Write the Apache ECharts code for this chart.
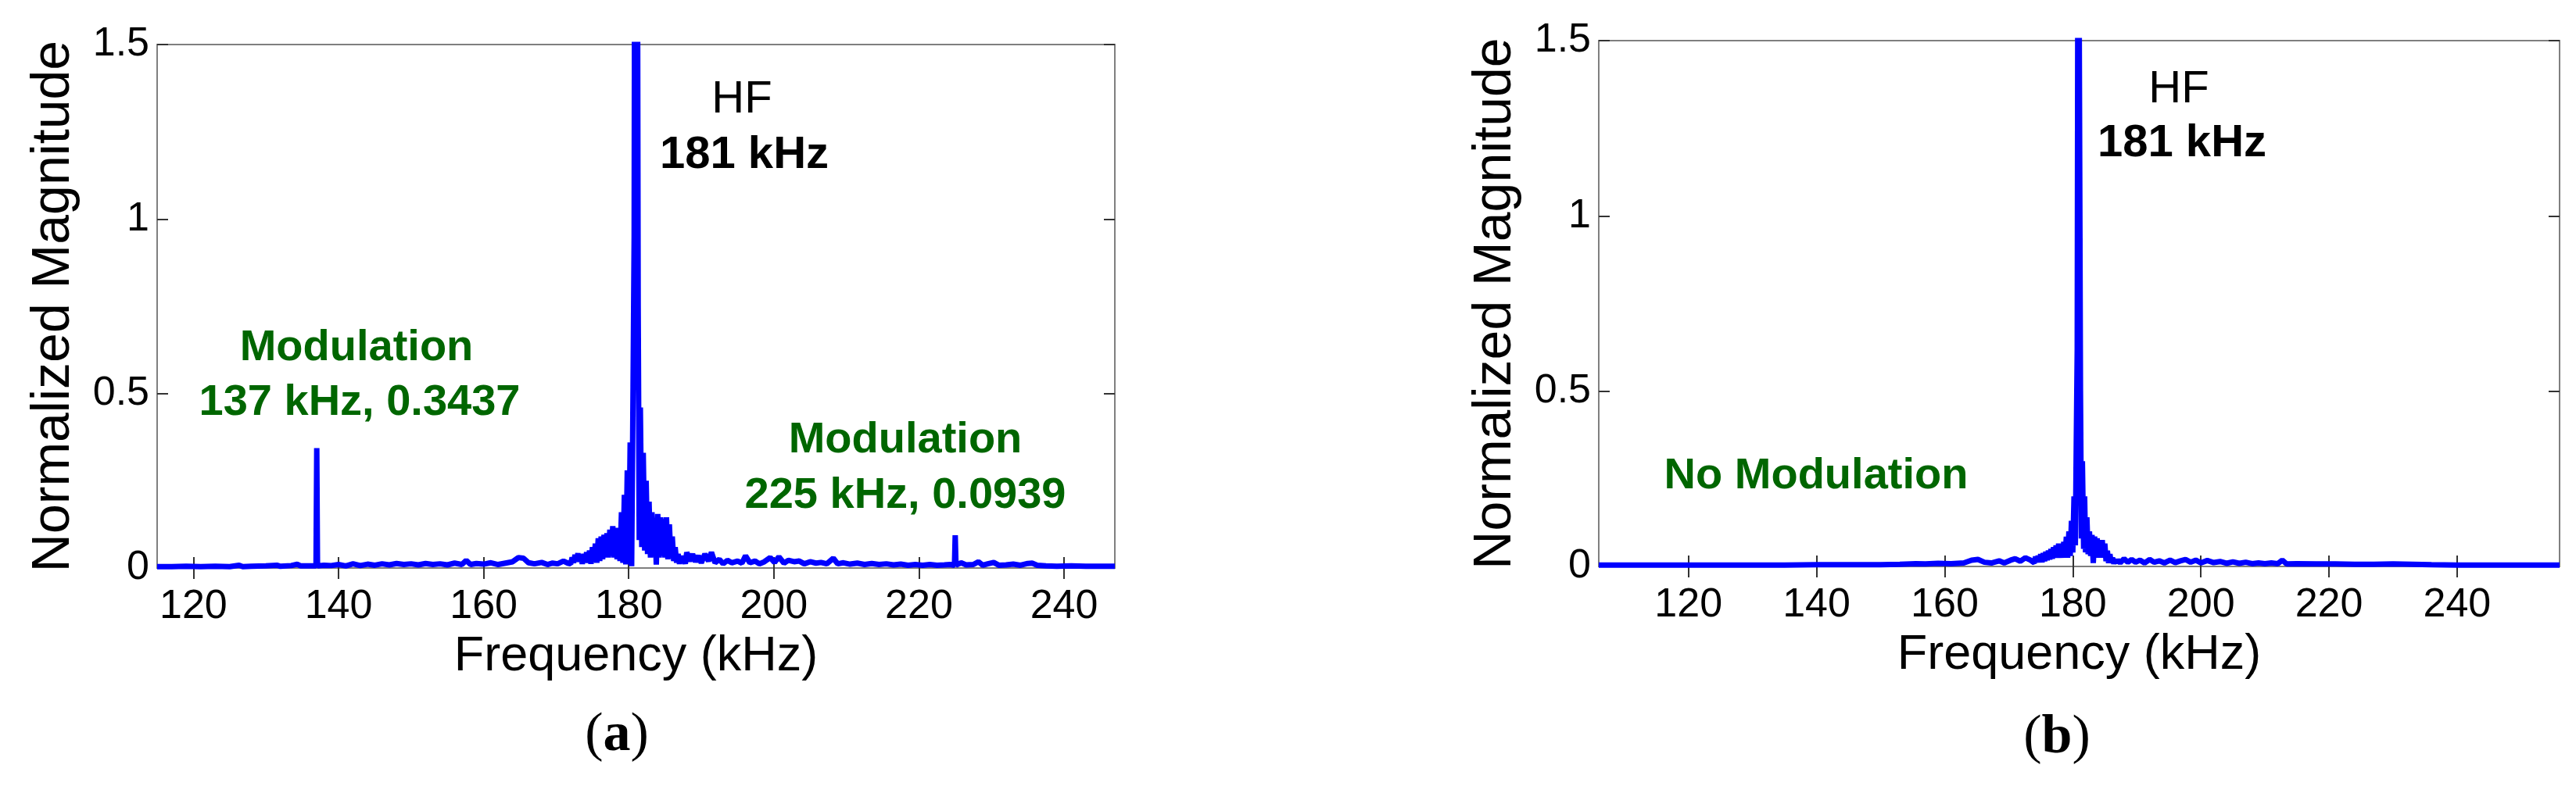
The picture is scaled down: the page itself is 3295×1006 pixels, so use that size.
<!DOCTYPE html>
<html>
<head>
<meta charset="utf-8">
<title>Spectrum</title>
<script src="https://cdn.jsdelivr.net/npm/echarts@6/dist/echarts.min.js"></script>
<style>
  html, body { margin: 0; padding: 0; background: #fff; }
  #chart { width: 3295px; height: 1006px; }
</style>
</head>
<body>
<div id="chart"></div>
<script>
// tick labels
const freqTicks = [120, 140, 160, 180, 200, 220, 240];
const magTicks = [0, 0.5, 1, 1.5];

// (a) spectrum with modulation
const freqA = [
  115, 117, 119, 121, 123, 125, 126.3, 126.8, 128, 130, 131.5, 132, 133.5, 134.3, 134.8, 136, 136.9, 137.0, 137.1,
  138, 139, 140, 141, 142, 143, 144, 145, 146, 147, 148, 149, 150, 151, 152, 153, 154, 155, 156, 157, 157.6, 158.2,
  159, 160, 161, 162, 163, 164, 164.8, 165.5, 166.2, 167, 168, 168.8, 169.5, 170.2, 171, 171.6,
  172.0, 172.2, 172.4, 172.6, 172.8, 173.0, 173.2, 173.4, 173.6, 173.8, 174.0, 174.2, 174.4, 174.6, 174.8,
  175.0, 175.2, 175.4, 175.6, 175.8, 176.0, 176.2, 176.4, 176.6, 176.8, 177.0, 177.2, 177.4, 177.6, 177.8,
  178.0, 178.2, 178.4, 178.6, 178.8, 179.0, 179.2, 179.4, 179.6, 179.8, 180.0, 180.2, 180.4, 180.6, 180.75,
  180.85, 181.15, 181.3, 181.45, 181.6, 181.8, 182.0, 182.2, 182.4, 182.6, 182.8, 183.0, 183.2, 183.4, 183.6,
  183.8, 184.0, 184.2, 184.4, 184.6, 184.8, 185.0, 185.2, 185.4, 185.6, 185.8, 186.0, 186.2, 186.4, 186.6,
  186.8, 187.0, 187.2, 187.4, 187.6, 187.8, 188.0,
  188.4, 188.8, 189.2, 189.6, 190, 190.5, 191, 191.4, 191.9, 192.5, 193, 193.6,
  194.2, 195, 195.6, 196.1, 196.7, 197.4, 198, 198.7, 199.5, 200.1, 200.7, 201.4, 202, 202.8, 203.5, 204.2, 205,
  205.8, 206.5, 207.3, 208.2, 208.8, 209.6, 210.5, 211.5, 212.5, 213.5, 214.5, 215.5, 216.5, 217.5, 218.5, 219.5,
  220.5, 221.5, 222.5, 223.5, 224.3, 224.9, 225.0, 225.1, 225.8, 226.5, 227.5, 228.2, 228.8, 229.5, 230.3, 231,
  232, 233, 234, 235, 235.6, 236.3, 237.5, 239, 241, 243, 245, 247
];
const magA = [
  0.004, 0.004, 0.005, 0.004, 0.005, 0.004, 0.008, 0.004, 0.005, 0.006, 0.008, 0.005, 0.007, 0.011, 0.006, 0.006, 0.006, 0.3437, 0.006,
  0.008, 0.007, 0.010, 0.006, 0.012, 0.007, 0.011, 0.008, 0.012, 0.009, 0.013, 0.010, 0.012, 0.009, 0.013, 0.010, 0.012, 0.009, 0.014, 0.010, 0.022, 0.010,
  0.013, 0.011, 0.015, 0.010, 0.014, 0.018, 0.030, 0.028, 0.015, 0.012, 0.016, 0.010, 0.014, 0.012, 0.020, 0.014,
  0.012, 0.030, 0.015, 0.038, 0.020, 0.042, 0.018, 0.035, 0.012, 0.040, 0.020, 0.045, 0.015, 0.050, 0.012,
  0.060, 0.018, 0.070, 0.015, 0.085, 0.020, 0.090, 0.025, 0.095, 0.030, 0.100, 0.030, 0.110, 0.035, 0.120,
  0.030, 0.115, 0.025, 0.105, 0.020, 0.160, 0.015, 0.210, 0.010, 0.280, 0.010, 0.360, 0.005, 0.520, 0.950,
  2.4, 2.4, 0.750, 0.080, 0.460, 0.060, 0.330, 0.050, 0.250, 0.040, 0.190, 0.030, 0.160, 0.035, 0.140,
  0.010, 0.155, 0.030, 0.145, 0.035, 0.140, 0.030, 0.145, 0.025, 0.125, 0.030, 0.090, 0.020, 0.060, 0.015,
  0.040, 0.012, 0.035, 0.015, 0.030, 0.012, 0.045,
  0.020, 0.040, 0.018, 0.035, 0.015, 0.040, 0.020, 0.045, 0.015, 0.025, 0.012, 0.022,
  0.015, 0.020, 0.014, 0.035, 0.015, 0.020, 0.012, 0.018, 0.030, 0.016, 0.032, 0.014, 0.022, 0.018, 0.020, 0.012, 0.018,
  0.014, 0.016, 0.012, 0.028, 0.012, 0.015, 0.011, 0.014, 0.010, 0.013, 0.010, 0.012, 0.009, 0.011, 0.008, 0.010,
  0.008, 0.010, 0.008, 0.009, 0.010, 0.008, 0.0939, 0.008, 0.015, 0.009, 0.010, 0.018, 0.008, 0.012, 0.016, 0.008,
  0.009, 0.011, 0.008, 0.013, 0.014, 0.008, 0.006, 0.005, 0.006, 0.005, 0.005, 0.005
];

// (b) spectrum without modulation
const freqB = [
  106, 110, 115, 120, 125, 130, 135, 140, 145, 150, 153, 155.5, 157, 159, 161, 163, 164.2, 165.2, 166.2, 167.3,
  168.5, 169.3, 170.3, 171, 171.8, 172.6, 173.4,
  174.0, 174.2, 174.4, 174.6, 174.8, 175.0, 175.2, 175.4, 175.6, 175.8, 176.0, 176.2, 176.4, 176.6, 176.8,
  177.0, 177.2, 177.4, 177.6, 177.8, 178.0, 178.2, 178.4, 178.6, 178.8, 179.0, 179.2, 179.4, 179.6, 179.8,
  180.0, 180.2, 180.4, 180.55, 180.7, 180.85, 181.05, 181.2, 181.35, 181.5, 181.7, 181.85, 182.0, 182.2, 182.4,
  182.6, 182.8, 183.0, 183.2, 183.4, 183.6, 183.8, 184.0, 184.2, 184.4, 184.6, 184.8, 185.0, 185.2, 185.4,
  185.6, 185.8, 186.0, 186.2, 186.4, 186.6, 186.8, 187.0,
  187.4, 188, 188.6, 189.2, 189.8, 190.5, 191.2, 192, 192.7, 193.5, 194.3, 195.2, 196, 196.8, 197.6, 198.4, 199.2, 200, 201,
  202, 203, 204, 205, 206, 207, 208, 209, 210, 211, 212, 212.7, 213.4, 215, 218, 221, 224, 227, 230, 233, 236,
  240, 245, 250, 256
];
const magB = [
  0.004, 0.004, 0.004, 0.004, 0.004, 0.004, 0.004, 0.005, 0.005, 0.005, 0.006, 0.008, 0.007, 0.009, 0.008, 0.010, 0.018, 0.020, 0.012, 0.010,
  0.016, 0.010, 0.018, 0.022, 0.015, 0.025, 0.018,
  0.010, 0.028, 0.012, 0.030, 0.014, 0.035, 0.012, 0.038, 0.015, 0.042, 0.018, 0.045, 0.020, 0.050, 0.022,
  0.055, 0.025, 0.060, 0.025, 0.065, 0.030, 0.060, 0.025, 0.070, 0.030, 0.085, 0.025, 0.100, 0.030, 0.130,
  0.040, 0.200, 0.060, 0.350, 0.620, 2.4, 2.4, 0.500, 0.080, 0.300, 0.050, 0.200, 0.040, 0.140, 0.035,
  0.100, 0.030, 0.090, 0.010, 0.085, 0.035, 0.080, 0.025, 0.075, 0.030, 0.075, 0.025, 0.065, 0.015, 0.045,
  0.010, 0.035, 0.010, 0.025, 0.008, 0.020, 0.010, 0.018,
  0.010, 0.022, 0.012, 0.020, 0.012, 0.018, 0.010, 0.020, 0.012, 0.016, 0.010, 0.018, 0.011, 0.016, 0.020, 0.012, 0.018, 0.010, 0.017,
  0.011, 0.014, 0.009, 0.013, 0.009, 0.012, 0.008, 0.010, 0.008, 0.010, 0.008, 0.018, 0.007, 0.008, 0.007, 0.007, 0.006, 0.006, 0.007, 0.006, 0.005,
  0.004, 0.004, 0.004, 0.004
];

const SANS = '"Liberation Sans", Arial, sans-serif';
const GREEN = '#006600';
const BLUE = '#0000ff';
const FRAME = '#7f7f7f';

const chart = echarts.init(document.getElementById('chart'));

// axis helpers
function bottomAxis(grid, min, max) {
  return {
    type: 'value', gridIndex: grid, position: 'bottom', min: min, max: max,
    name: 'Frequency (kHz)', nameLocation: 'middle', nameGap: 82,
    nameTextStyle: { fontFamily: SANS, fontSize: 63, color: '#000' },
    axisLine: { show: false },
    axisTick: { show: true, inside: true, length: 14, customValues: freqTicks, lineStyle: { color: '#333', width: 2 } },
    axisLabel: { show: true, customValues: freqTicks, margin: 24, fontFamily: SANS, fontSize: 52, color: '#000' },
    splitLine: { show: false }
  };
}
function topAxis(grid, min, max) {
  return {
    type: 'value', gridIndex: grid, position: 'top', min: min, max: max,
    axisLine: { show: false },
    axisTick: { show: true, inside: true, length: 14, customValues: freqTicks, lineStyle: { color: '#333', width: 2 } },
    axisLabel: { show: false },
    splitLine: { show: false }
  };
}
function leftAxis(grid) {
  return {
    type: 'value', gridIndex: grid, position: 'left', min: 0, max: 1.5, interval: 0.5,
    name: 'Normalized Magnitude', nameLocation: 'middle', nameGap: 98,
    nameTextStyle: { fontFamily: SANS, fontSize: 68, color: '#000' },
    axisLine: { show: false },
    axisTick: { show: true, inside: true, length: 14, lineStyle: { color: '#333', width: 2 } },
    axisLabel: { show: true, margin: 10, fontFamily: SANS, fontSize: 52, color: '#000',
      formatter: v => magTicks.indexOf(v) >= 0 ? String(v) : '' },
    splitLine: { show: false }
  };
}
function rightAxis(grid) {
  return {
    type: 'value', gridIndex: grid, position: 'right', min: 0, max: 1.5, interval: 0.5,
    axisLine: { show: false },
    axisTick: { show: true, inside: true, length: 14, lineStyle: { color: '#333', width: 2 } },
    axisLabel: { show: false },
    splitLine: { show: false }
  };
}

function note(x, y, text, color, bold, size) {
  return {
    type: 'text', x: x, y: y, z: 10,
    style: {
      text: text, fill: color, align: 'center', verticalAlign: 'middle',
      font: (bold ? 'bold ' : '') + size + 'px ' + SANS
    }
  };
}
function caption(x, y, letter) {
  return {
    type: 'text', x: x, y: y, z: 10,
    style: {
      text: '{p|(}{b|' + letter + '}{p|)}', align: 'center', verticalAlign: 'middle',
      rich: {
        p: { fontFamily: '"Liberation Serif", serif', fontSize: 70, color: '#000' },
        b: { fontFamily: '"Liberation Serif", serif', fontSize: 70, fontWeight: 'bold', color: '#000' }
      }
    }
  };
}

const option = {
  backgroundColor: '#fff',
  animation: false,
  grid: [
    { left: 201, top: 57, width: 1225, height: 670, show: true, borderColor: FRAME, borderWidth: 2, backgroundColor: 'transparent' },
    { left: 2045, top: 52, width: 1229, height: 673, show: true, borderColor: FRAME, borderWidth: 2, backgroundColor: 'transparent' }
  ],
  xAxis: [
    bottomAxis(0, 115, 247), topAxis(0, 115, 247),
    bottomAxis(1, 106, 256), topAxis(1, 106, 256)
  ],
  yAxis: [
    leftAxis(0), rightAxis(0),
    leftAxis(1), rightAxis(1)
  ],
  series: [
    {
      name: 'Modulated', type: 'line', xAxisIndex: 0, yAxisIndex: 0,
      data: freqA.map((f, i) => [f, magA[i]]),
      showSymbol: false, clip: true,
      lineStyle: { color: BLUE, width: 7 }
    },
    {
      name: 'Unmodulated', type: 'line', xAxisIndex: 2, yAxisIndex: 2,
      data: freqB.map((f, i) => [f, magB[i]]),
      showSymbol: false, clip: true,
      lineStyle: { color: BLUE, width: 7 }
    }
  ],
  graphic: [
    note(949, 128, 'HF', '#000', false, 58),
    note(952, 199, '181 kHz', '#000', true, 58),
    note(456, 446, 'Modulation', GREEN, true, 56),
    note(460, 516, '137 kHz, 0.3437', GREEN, true, 56),
    note(1158, 564, 'Modulation', GREEN, true, 56),
    note(1158, 635, '225 kHz, 0.0939', GREEN, true, 56),
    note(2787, 115, 'HF', '#000', false, 58),
    note(2791, 184, '181 kHz', '#000', true, 58),
    note(2323, 610, 'No Modulation', GREEN, true, 56),
    caption(789, 942, 'a'),
    caption(2631, 945, 'b')
  ]
};

chart.setOption(option);
</script>
</body>
</html>
